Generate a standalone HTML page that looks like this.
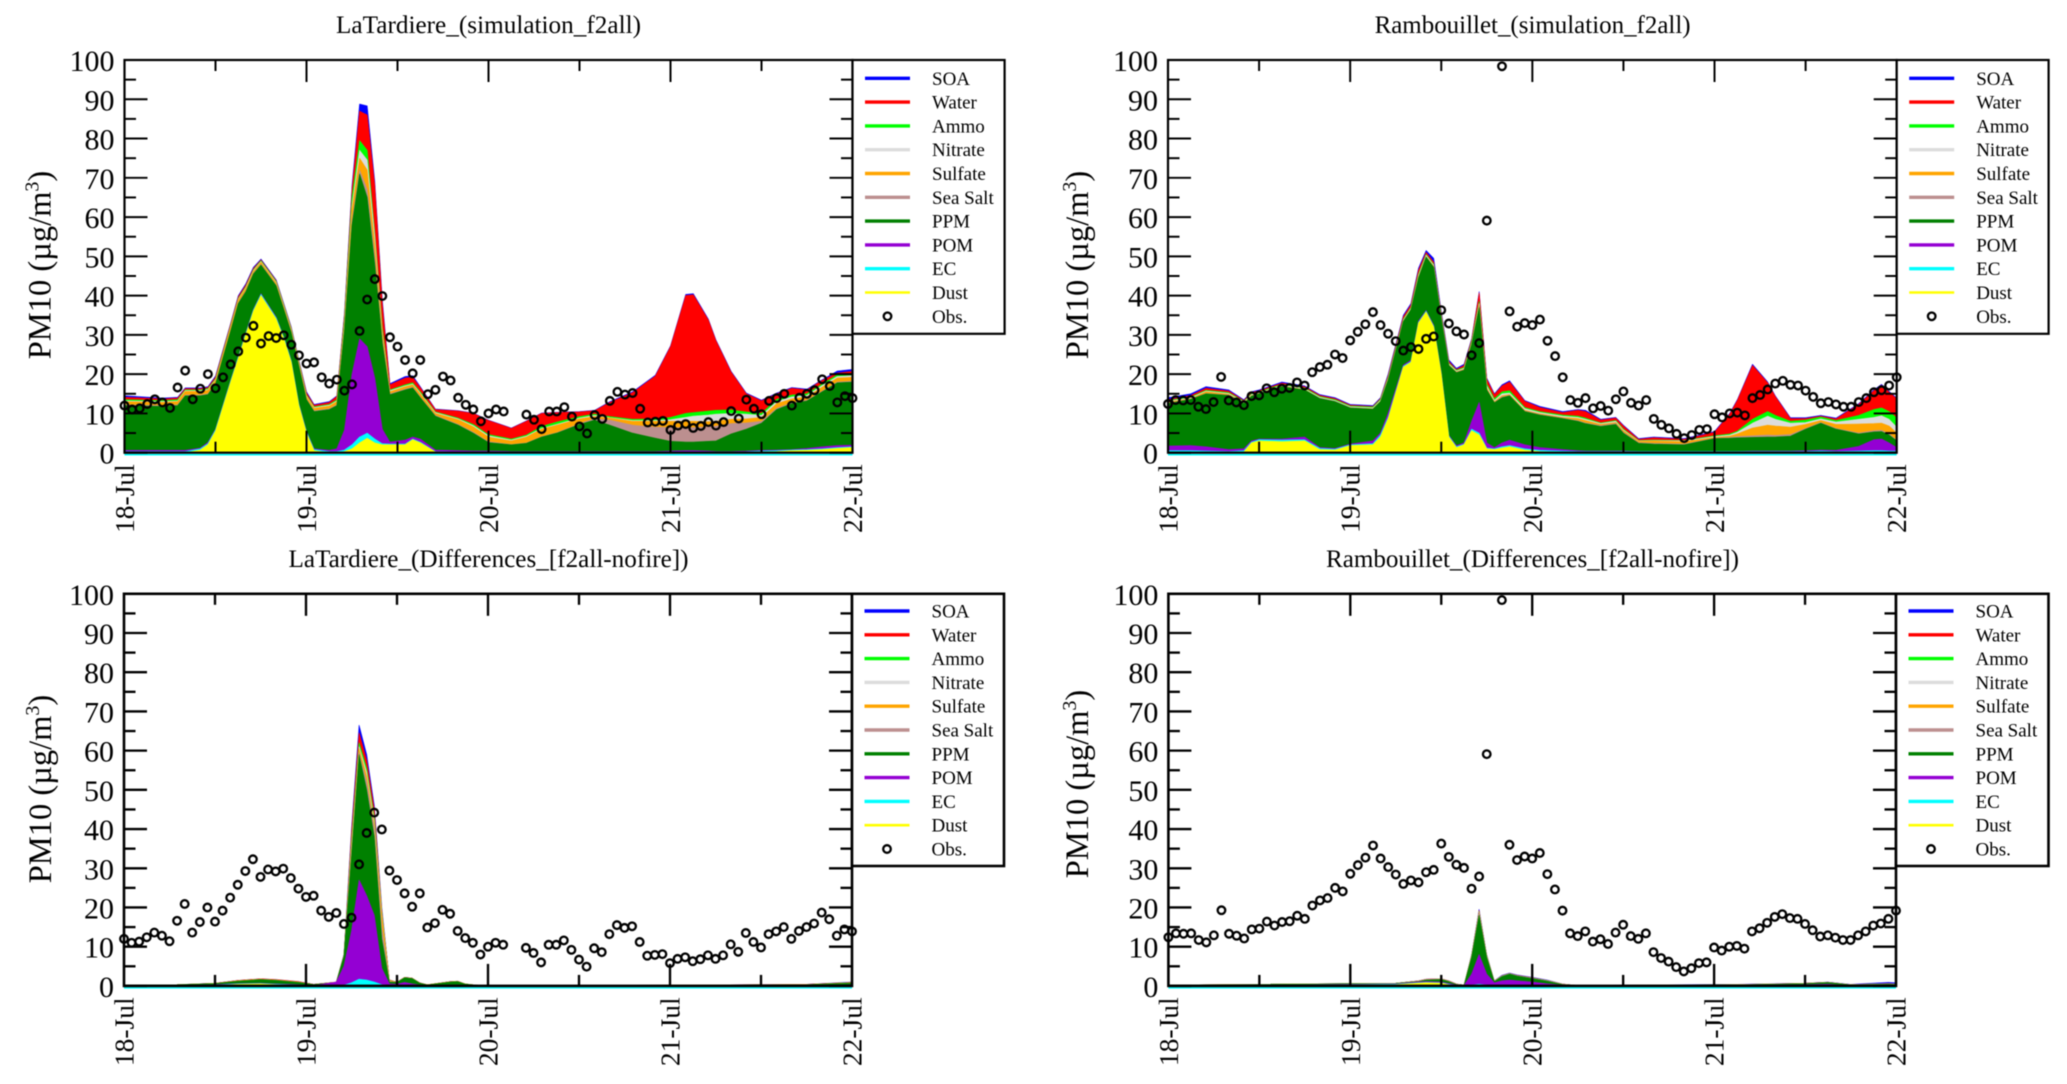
<!DOCTYPE html>
<html lang="en">
<head>
<meta charset="utf-8">
<title>PM10 simulation and differences</title>
<style>
html,body{margin:0;padding:0;background:#fff;}
svg{display:block;font-family:"Liberation Serif","DejaVu Serif",serif;filter:blur(0.45px);}
</style>
</head>
<body>
<svg id="chart" xmlns="http://www.w3.org/2000/svg" width="2067" height="1084" viewBox="0 0 2067 1084"></svg>
<script>
const dayLabels=["18-Jul","19-Jul","20-Jul","21-Jul","22-Jul"];
const yTickLabels=[0,10,20,30,40,50,60,70,80,90,100];
const legendLabels=["SOA","Water","Ammo","Nitrate","Sulfate","Sea Salt","PPM","POM","EC","Dust"];

const obsLaTardiere=[12,11,11.3,12.4,13.6,12.8,11.4,16.6,20.9,13.6,16.3,20,16.4,19.2,22.5,25.8,29.3,32.3,27.8,29.7,29.2,29.9,27.5,24.8,22.7,23,19.2,17.6,18.6,15.8,17.4,31,39,44.2,39.9,29.4,27,23.6,20.2,23.6,14.9,16,19.4,18.4,14,12.2,11,8,10,11,10.5,null,null,9.7,8.4,6,10.5,10.5,11.6,9.2,6.7,4.9,9.6,8.6,13.2,15.5,14.8,15.2,11.2,7.7,7.9,8.1,5.8,6.9,7.3,6.3,6.8,7.8,6.9,7.8,10.6,8.7,13.5,11.2,9.8,13.2,13.9,15,12,14,15,15.9,18.7,17,12.8,14.4,13.9];
const obsRambouillet=[12.4,13.4,13.3,13.4,11.7,11.1,12.9,19.3,13.3,12.8,12.1,14.4,14.6,16.4,15.4,16.3,16.5,17.9,17.1,20.5,21.8,22.4,25,24.1,28.6,30.8,32.7,35.8,32.5,30.3,28.4,26,26.9,26.4,29,29.6,36.3,32.9,30.9,30.1,24.8,27.9,59.1,null,98.4,36,32.1,33,32.5,33.9,28.5,24.6,19.2,13.4,12.7,13.9,11.3,11.9,10.7,13.6,15.6,12.7,12,13.4,8.6,7.1,6.2,4.8,3.7,4.5,5.8,6,9.8,9,10,10.2,9.5,13.9,14.7,16.1,17.6,18.3,17.3,17.1,15.8,14.2,12.6,12.9,12.3,11.7,11.7,12.9,13.9,15.4,15.9,17.1,19.2];

/* Stacked levels (µg/m3): each array is the top of that layer */
const latSimHours=[0,5,7,8,10,11,12,14,15,16,17,18,20,21,22,23,24,25,27,28,29,30,31,32,33,34,35,37,38,39,41,44,46,48,51,53,55,57,60,62,64,67,70,72,74,75,77,78,80,82,84,86,88,90,92,94,96];
const latSimDust=[0,0,0,0,.7,2,5.5,18,24,30,36,40,34,29,23,12,5,.5,0,0,.3,1,2.5,3.7,2.5,2,2,2,3.3,2.5,.2,0,0,0,0,0,0,0,0,0,0,0,0,0,0,0,0,0,0,.05,.2,.3,.5,.6,.8,1.1,1.3];
const latSimEC=[.3,.3,.3,.3,1,2.3,5.8,18.3,24.3,30.3,36.3,40.3,34.3,29.3,23.3,12.3,5.3,.8,.3,.3,.7,2,4,5,3.5,2.3,2.2,2.2,3.5,2.7,.3,.2,.2,.2,.2,.2,.2,.2,.2,.2,.2,.2,.2,.2,.2,.2,.2,.2,.2,.25,.4,.5,.7,.8,1,1.3,1.5];
const latSimPOM=[.6,.6,.6,.6,1.2,2.6,6,18.5,24.5,30.5,36.5,40.5,34.5,29.5,23.5,12.5,5.5,1,.6,1,5.7,20,29,27,19,6,2.7,3.2,4,3.5,.7,.5,.4,.4,.3,.3,.3,.3,.3,.3,.3,.3,.3,.4,.5,.5,.4,.3,.3,.4,.6,.7,.8,1.1,1.5,1.8,1.9];
const latSimPPM=[12,11.8,12,14.5,14.5,14.8,17.5,31,38,41,45.5,47.8,42.5,36.5,30.5,22,13.5,10.5,11,12,31,58,71,65,48,28,14.8,16,16.5,14,9.3,7,5,2.6,2,2.4,4,5,7.2,8.3,7,5,3.7,2.9,2.7,2.7,2.9,3,4.8,6,7.5,11,12.5,13.2,15.5,17.8,18];
const latSimSeaSalt=[12.2,12,12.2,14.7,14.7,15,17.7,31.2,38.2,41.2,45.7,48,42.7,36.7,30.7,22.2,13.7,10.7,11.2,12.2,31.5,59,72,67,50,29,15,16.2,16.7,14.2,9.5,7.2,5.2,2.8,2.1,2.5,4.1,5.1,7.4,8.7,8.3,7,6.5,6.4,6.4,6.4,6.6,6.8,7.4,7.6,8,11.3,12.7,13.4,15.7,18,18.2];
const latSimSulfate=[13,12.8,13,15.6,15.6,15.9,18.4,32,38.9,41.9,46.2,48.5,43.2,37.2,31.2,22.8,14.3,11.3,11.9,13,32.5,62,75,72,53,30.5,15.5,16.8,17.3,15,10,8.4,6.6,4,3,4,6,7,8.6,9.2,8.8,8,8,8,8,8,7.9,8,8.5,8.6,9,12.5,13.7,14.2,16.7,19,19.2];
const latSimNitrate=[13.2,13,13.2,15.8,15.8,16.1,18.6,32.2,39.1,42.1,46.4,48.7,43.4,37.4,31.4,23,14.5,11.5,12.1,13.2,33,63,77,74.5,55,31,15.8,17,17.5,15.2,10.2,8.6,6.9,4.3,3.2,4.2,6.2,7.2,8.8,9.5,8.9,8.2,8.2,8.4,9,9.3,9.6,9.8,10,9.8,9.5,13,14.2,14.6,17.1,19.4,19.6];
const latSimAmmo=[13.5,13.3,13.5,16,16,16.3,18.8,32.4,39.3,42.3,46.6,48.9,43.6,37.6,31.6,23.2,14.7,11.7,12.3,13.5,34,65,79.5,77,56,32,16,17.3,17.8,15.5,10.4,8.8,7.2,4.6,3.5,4.5,6.7,7.8,9.2,9.8,9.2,8.5,8.6,9,10,10.2,10.6,10.8,10.9,10.4,10,13.6,14.7,15,17.5,19.8,20];
const latSimWater=[14.1,13.7,13.9,16.3,16.3,16.6,19.2,32.8,39.7,42.7,46.9,49.1,43.8,37.8,31.8,23.4,15.2,12.1,12.8,14.3,35,67,87,86,68,38,17.3,19,19.2,16.6,11,10.6,10,8.2,6.2,8,10,10.2,10.4,10.7,12.8,15.3,19.5,27,40,40.2,33.8,28.5,20.5,15,13.2,15,16.4,16,18.4,20.3,20.7];
const latSimSOA=[14.5,13.9,14.1,16.5,16.5,16.8,19.5,33,40,43,47.2,49.3,44,38,32,23.6,15.5,12.3,13,14.5,35.5,68,88.8,88.3,69,39,17.6,19.4,19.6,16.8,11.1,10.7,10.1,8.3,6.3,8.1,10.1,10.3,10.5,10.8,13,15.5,19.7,27.2,40.3,40.5,34,28.7,20.7,15.2,13.4,15.2,16.6,16.2,18.6,20.8,21.2];

const ramSimHours=[0,3,5,8,10,11,12,15,18,20,22,24,27,28,29,31,32,33,34,35,36,37,38,39,40,41,42,43,44,45,47,49,52,54,55,57,59,60,62,64,68,72,74,75,77,79,80,82,84,86,88,91,93,94,95,96];
const ramSimDust=[0,0,0,0,.2,2.5,3,2.8,3,.8,.7,1.8,2,4,8.6,21.8,23,33,35.8,32,20,4,1.3,2,5.6,4.5,1,.8,1.2,1.5,.7,.3,.1,0,0,0,0,0,0,0,0,0,0,0,0,0,0,0,0,.1,.1,.1,.1,.1,.1,.1];
const ramSimEC=[.5,.5,.4,.3,.5,2.7,3.3,3.2,3.3,1.1,.9,2,2.3,4.5,9,22,23.2,33.2,36,32.2,20.2,4.2,1.5,2.2,6,5,1.2,1,1.5,1.8,1,.6,.4,.3,.3,.3,.3,.3,.3,.3,.3,.3,.3,.3,.3,.3,.3,.3,.3,.4,.3,.4,.5,.5,.4,.4];
const ramSimPOM=[1.7,1.8,1.5,.8,1,3,3.5,3.5,4,1.3,1.1,2.2,3,5,10,22.3,23.5,33.5,36.2,32.5,20.5,4.4,1.8,2.5,8,12.8,2.5,1.3,2.5,3.2,2,1.3,.8,.5,.4,.4,.4,.4,.3,.3,.3,.3,.3,.3,.4,.4,.4,.4,.5,.7,.6,1.6,3.3,3.5,2.5,1.3];
const ramSimPPM=[12.5,13.6,15,14.6,12.5,14.4,15,16.8,16,13.8,13,11.4,11.1,13,18.5,33.4,36.4,44.5,49.8,47.2,34.2,22.2,20.4,21,27.5,37,16,12.7,14,14.5,10.5,9.6,8.7,8,7.4,6.7,7.2,5,2.4,2.2,2,3.6,3.7,3.8,3.9,4,4,4.2,6,7.5,6,4.8,5.3,5.4,4.5,3];
const ramSimSeaSalt=[12.6,13.7,15.1,14.7,12.6,14.5,15,16.9,16,13.9,13.1,11.5,11.1,13.1,18.6,33.5,36.5,44.6,49.9,47.3,34.3,22.3,20.5,21.1,27.6,37.2,16.2,12.8,14.2,14.6,10.6,9.7,8.8,8.2,7.6,6.9,7.4,5.2,2.6,2.4,2.2,3.7,3.9,4.1,4.3,4.5,4.4,4.6,6.2,7.7,6.2,5,5.6,5.7,4.8,3.2];
const ramSimSulfate=[12.9,13.8,15.5,14.9,12.7,14.6,15.1,17,16.1,13.9,13.1,11.5,11.2,13.2,18.8,33.6,36.6,44.8,50,47.5,34.5,22.4,20.6,21.3,27.8,37.5,16.5,13,14.5,14.8,10.8,9.9,9,8.7,8.2,7.2,7.7,5.6,2.9,3,2.8,3.9,4.2,4.8,6.3,7,6.8,6.5,7.2,8.2,7.2,7.3,7.4,7.5,6.8,5];
const ramSimNitrate=[13.1,14,15.7,15.1,12.9,14.8,15.3,17.2,16.3,14.1,13.3,11.7,11.4,13.4,19,33.8,36.8,45.2,50.3,47.8,34.8,22.6,20.8,21.5,28,38,17,13.3,15,15.2,11.2,10.2,9.3,9,8.5,7.4,8,5.8,3,3.1,3,4.1,4.5,5.2,7.5,9.3,8.5,7.5,7.7,8.6,7.8,8.5,9,9.4,8.5,6.5];
const ramSimAmmo=[13.3,14.2,15.9,15.3,13.1,15,15.5,17.4,16.5,14.3,13.5,11.9,11.6,13.6,19.2,34,37,45.5,50.5,48,35,22.8,21,21.7,28.3,38.5,17.5,13.7,15.5,15.8,11.5,10.5,9.6,9.3,8.8,7.6,8.2,6,3.1,3.2,3.1,4.3,4.8,5.5,8.5,10.5,9.5,8,8.3,9.1,8.2,9.5,11,11.4,10.5,8.8];
const ramSimWater=[13.5,14.6,16.4,15.7,13.3,15.3,15.8,17.7,16.8,14.6,13.8,12.1,11.8,13.8,19.6,34.6,37.6,46.5,51,48.5,35.5,23.2,21.2,22.2,28.7,40.7,18.7,14.8,17,18,13.1,11.5,10.2,10.8,10.5,8.3,8.8,6.8,3.4,3.8,3.4,5.2,9.8,13.3,22.2,17.8,14.3,8.7,8.7,9.3,8.6,12.3,15.8,17.2,15.4,13.7];
const ramSimSOA=[14,15,16.8,16,13.5,15.5,16,18,17,14.8,14,12.3,12,14,20,35,38,47,51.5,49.5,36,23.6,21.5,22.5,29,41,19,15,17.3,18.3,13.3,11.8,10.5,11,10.8,8.5,9,7,3.6,4,3.6,5.4,10,13.5,22.5,18,14.5,8.9,8.9,9.5,8.8,12.5,16,17.4,15.6,13.9];

const latDifHours=[0,7,12,15,18,20,23,25,28,29,30,31,32,33,34,35,36,37,38,39,40,43,44,45,47,60,75,90,96];
const latDifDust=[0,0,.1,.4,.5,.3,.1,0,0,0,0,.1,.1,0,0,0,0,0,0,0,0,0,0,0,0,0,0,0,.1];
const latDifEC=[.1,.1,.2,.5,.6,.4,.2,.1,.1,.2,.8,1.7,1.5,1,.3,.1,.1,.2,.1,.1,.1,.1,.1,.1,.1,.1,.1,.1,.2];
const latDifPOM=[.1,.1,.3,.6,.7,.5,.3,.1,1,5,14,27,23,18,4.5,.5,.4,.9,.5,.2,.1,.2,.2,.1,.1,.1,.1,.1,.3];
const latDifPPM=[.2,.3,.6,1.2,1.6,1.4,.9,.35,.9,7.5,33,59,50,38,12,1,.9,2.1,1.9,.7,.25,1,1.1,.45,.1,.1,.15,.3,.7];
const latDifSeaSalt=[.2,.3,.6,1.2,1.6,1.4,.9,.35,.9,7.6,34,59.5,52,40,15,1.1,.9,2.1,1.9,.7,.25,1,1.1,.45,.1,.1,.15,.3,.7];
const latDifSulfate=[.2,.3,.65,1.3,1.7,1.5,1,.35,.95,7.7,35,60.5,53.5,41,18,1.3,.95,2.15,1.95,.75,.3,1.05,1.15,.5,.1,.1,.2,.35,.8];
const latDifNitrate=[.2,.3,.65,1.3,1.7,1.5,1,.35,.95,7.7,36,61,54.5,42,18.5,1.3,.95,2.15,1.95,.75,.3,1.05,1.15,.5,.1,.1,.2,.35,.8];
const latDifAmmo=[.2,.3,.65,1.3,1.7,1.5,1,.35,.95,7.8,37,62,55.5,43,19,1.4,.95,2.15,1.95,.75,.3,1.05,1.15,.5,.1,.1,.2,.35,.85];
const latDifWater=[.2,.3,.7,1.4,1.8,1.6,1.1,.4,1,7.9,39,64.5,57.5,45,19.5,1.5,1,2.2,2,.8,.3,1.1,1.2,.5,.1,.1,.2,.4,.9];
const latDifSOA=[.2,.3,.7,1.4,1.8,1.6,1.1,.4,1,8,40,66.5,59,46,20,1.5,1,2.2,2,.8,.3,1.1,1.2,.5,.1,.1,.2,.4,1];

const ramDifHours=[0,12,30,33,34,36,37,38,39,40,41,42,43,44,45,46,48,50,52,54,75,84,87,90,95,96];
const ramDifDust=[0,.05,.3,.7,.8,.7,.3,0,0,0,0,0,0,0,0,0,0,0,0,0,0,0,0,0,0,0];
const ramDifEC=[.1,.1,.4,.8,.9,.8,.4,.1,.1,.2,.4,.2,.1,.1,.1,.1,.1,.1,.1,.1,.1,.1,.1,.1,.1,.1];
const ramDifPOM=[.1,.15,.5,1,1.1,1,.6,.2,.1,3,8,3,.8,1.3,1.5,1.3,1,.5,.2,.1,.1,.3,.4,.1,.1,.1];
const ramDifPPM=[.2,.35,.6,1.1,1.5,1.6,1.1,.35,.1,7.3,18,7.3,1.1,2.4,3,2.5,1.9,1.2,.35,.1,.25,.55,.85,.25,.4,.3];
const ramDifSeaSalt=[.2,.4,.65,1.2,1.6,1.7,1.2,.4,.15,7.6,18.6,7.6,1.2,2.5,3.1,2.6,2,1.3,.4,.1,.3,.6,.9,.3,.5,.4];
const ramDifSulfate=[.2,.4,.65,1.2,1.6,1.7,1.2,.4,.15,7.7,18.8,7.7,1.2,2.5,3.1,2.6,2,1.3,.4,.1,.3,.6,.9,.3,.52,.42];
const ramDifNitrate=[.2,.4,.65,1.25,1.65,1.75,1.25,.45,.15,7.8,18.9,7.75,1.25,2.55,3.15,2.65,2.05,1.35,.45,.1,.32,.65,.92,.32,.54,.44];
const ramDifAmmo=[.2,.4,.7,1.25,1.65,1.75,1.25,.45,.2,7.85,19,7.85,1.25,2.55,3.15,2.65,2.05,1.35,.45,.1,.33,.65,.93,.33,.56,.46];
const ramDifWater=[.2,.4,.7,1.3,1.7,1.8,1.3,.5,.2,7.9,19.2,7.9,1.3,2.6,3.2,2.7,2.1,1.4,.5,.1,.35,.7,.95,.35,.6,.5];
const ramDifSOA=[.2,.4,.7,1.3,1.7,1.8,1.3,.5,.2,8,19.5,8,1.3,2.7,3.3,2.8,2.2,1.5,.5,.1,.4,.7,1,.4,.9,.8];

const seriesColors=["#0000ff","#ff0000","#00ff00","#dcdcdc","#ffa500","#bc8f8f","#008000","#9400d3","#00ffff","#ffff00"];

const panels=[
 {id:"latardiere-simulation",title:"LaTardiere_(simulation_f2all)",titleX:336,titleLen:305,titleY:33,x0:124.5,x1:852.5,y100:60,y0:452.7,legX:1004.6,legB:333.8,legY:78.3,yTitleX:50.5,yTitleY:265,axisW:2.2,
  hours:latSimHours,tops:[latSimSOA,latSimWater,latSimAmmo,latSimNitrate,latSimSulfate,latSimSeaSalt,latSimPPM,latSimPOM,latSimEC,latSimDust],obs:obsLaTardiere},
 {id:"rambouillet-simulation",title:"Rambouillet_(simulation_f2all)",titleX:1374.6,titleLen:316,titleY:33,x0:1168,x1:1896.7,y100:60,y0:452.7,legX:2048.6,legB:333.8,legY:78.3,yTitleX:1088,yTitleY:265,axisW:2.2,
  hours:ramSimHours,tops:[ramSimSOA,ramSimWater,ramSimAmmo,ramSimNitrate,ramSimSulfate,ramSimSeaSalt,ramSimPPM,ramSimPOM,ramSimEC,ramSimDust],obs:obsRambouillet},
 {id:"latardiere-differences",title:"LaTardiere_(Differences_[f2all-nofire])",titleX:288.5,titleLen:400,titleY:567,x0:124,x1:852,y100:593.8,y0:985.9,legX:1004,legB:866,legY:611,yTitleX:51,yTitleY:789,axisW:2.6,
  hours:latDifHours,tops:[latDifSOA,latDifWater,latDifAmmo,latDifNitrate,latDifSulfate,latDifSeaSalt,latDifPPM,latDifPOM,latDifEC,latDifDust],obs:obsLaTardiere},
 {id:"rambouillet-differences",title:"Rambouillet_(Differences_[f2all-nofire])",titleX:1326,titleLen:413,titleY:567,x0:1168.4,x1:1896,y100:593.8,y0:985.9,legX:2048.5,legB:866,legY:611,yTitleX:1088,yTitleY:784,axisW:2.6,
  hours:ramDifHours,tops:[ramDifSOA,ramDifWater,ramDifAmmo,ramDifNitrate,ramDifSulfate,ramDifSeaSalt,ramDifPPM,ramDifPOM,ramDifEC,ramDifDust],obs:obsRambouillet}
];

const NS="http://www.w3.org/2000/svg";
const svg=document.getElementById("chart");
function mk(parent,tag,attrs,text){
  const el=document.createElementNS(NS,tag);
  for(const k in attrs){el.setAttribute(k,attrs[k]);}
  if(text!==undefined){el.textContent=text;}
  parent.appendChild(el);
  return el;
}
function xScale(p,h){return p.x0+(h/96)*(p.x1-p.x0);}
function yScale(p,v){return p.y0-(v/100)*(p.y0-p.y100);}

panels.forEach(function(p){
  const g=mk(svg,"g",{});
  
  

  const title=mk(g,"text",{x:p.titleX,y:p.titleY,"font-size":25,textLength:p.titleLen,lengthAdjust:"spacingAndGlyphs",fill:"#000"},p.title);
  
  

  /* stacked layers: top of stack first, lower layers painted over it */
  p.tops.forEach(function(top,i){
    let pts=xScale(p,p.hours[0]).toFixed(1)+","+yScale(p,0).toFixed(1);
    p.hours.forEach(function(h,j){
      pts+=" "+xScale(p,h).toFixed(1)+","+yScale(p,top[j]).toFixed(1);
    });
    pts+=" "+xScale(p,p.hours[p.hours.length-1]).toFixed(1)+","+yScale(p,0).toFixed(1);
    const area=mk(g,"polygon",{points:pts,fill:seriesColors[i],stroke:seriesColors[i],"stroke-width":0.6,"stroke-linejoin":"round"});
    
    
  });

  const ecBase=mk(g,"line",{x1:p.x0,x2:p.x1,y1:p.y0+2,y2:p.y0+2,stroke:"#00ffff","stroke-width":1.5});
  
  

  /* y ticks */
  for(let v=0;v<=100;v+=5){
    const major=v%10===0;
    const len=major?23:11.5;
    const y=yScale(p,v);
    const tl=mk(g,"line",{x1:p.x0,x2:p.x0+len,y1:y,y2:y,stroke:"#000","stroke-width":p.axisW*0.9});
    
    
    const tr=mk(g,"line",{x1:p.x1,x2:p.x1-len,y1:y,y2:y,stroke:"#000","stroke-width":p.axisW*0.9});
    
    
  }
  yTickLabels.forEach(function(v){
    const lab=mk(g,"text",{x:p.x0-10,y:yScale(p,v)+11,"font-size":30,"text-anchor":"end",fill:"#000"},String(v));
    
    
  });

  /* x ticks every half day */
  for(let h=12;h<96;h+=12){
    const len=h%24===0?22:11;
    const x=xScale(p,h);
    const tt=mk(g,"line",{x1:x,x2:x,y1:p.y100,y2:p.y100+len,stroke:"#000","stroke-width":p.axisW*0.9});
    
    
    const tb=mk(g,"line",{x1:x,x2:x,y1:p.y0,y2:p.y0-len,stroke:"#000","stroke-width":p.axisW*0.9});
    
    
  }
  dayLabels.forEach(function(d,i){
    const x=xScale(p,i*24)+9.5;
    const y=p.y0+11.5;
    const lab=mk(g,"text",{x:x,y:y,"font-size":27.5,"text-anchor":"end",transform:"rotate(-90 "+x+" "+y+")",fill:"#000"},d);
    
    
  });

  /* y title */
  const yt=mk(g,"text",{x:p.yTitleX,y:p.yTitleY,"font-size":32.5,"text-anchor":"middle",transform:"rotate(-90 "+p.yTitleX+" "+p.yTitleY+")",fill:"#000"});
  
  
  mk(yt,"tspan",{},"PM10 (\u00b5g/m");
  mk(yt,"tspan",{"font-size":20,dy:-12},"3");
  mk(yt,"tspan",{dy:12},")");

  /* plot frame */
  const frame=mk(g,"rect",{x:p.x0,y:p.y100,width:p.x1-p.x0,height:p.y0-p.y100,fill:"none",stroke:"#000","stroke-width":p.axisW});
  
  

  /* observations */
  p.obs.forEach(function(v,h){
    if(v===null){return;}
    const c=mk(g,"circle",{cx:xScale(p,h),cy:yScale(p,v),r:3.8,fill:"none",stroke:"#000","stroke-width":2.3});
    
    
  });

  /* legend */
  const leg=mk(g,"g",{});
  
  
  const box=mk(leg,"rect",{x:p.x1,y:p.y100,width:p.legX-p.x1,height:p.legB-p.y100,fill:"#fff",stroke:"#000","stroke-width":p.axisW});
  
  
  const step=23.8;
  legendLabels.forEach(function(name,i){
    const y=p.legY+i*step;
    const ln=mk(leg,"line",{x1:p.x1+12.5,x2:p.x1+57.5,y1:y,y2:y,stroke:seriesColors[i],"stroke-width":i===9?2.6:3.4});
    
    
    const tx=mk(leg,"text",{x:p.x1+79.5,y:y+6.5,"font-size":19,fill:"#000"},name);
    
    
  });
  const oy=p.legY+10*step;
  const oc=mk(leg,"circle",{cx:p.x1+35,cy:oy,r:3.8,fill:"none",stroke:"#000","stroke-width":2.3});
  
  
  const ot=mk(leg,"text",{x:p.x1+79.5,y:oy+6.5,"font-size":19,fill:"#000"},"Obs.");
  
  
});
</script>
</body>
</html>
